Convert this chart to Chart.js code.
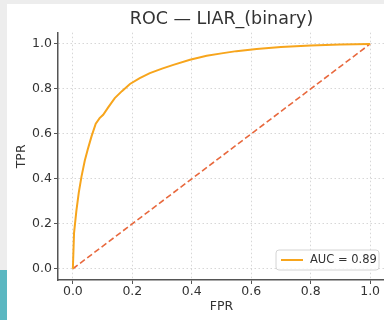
<!DOCTYPE html>
<html>
<head>
<meta charset="utf-8">
<script src="https://cdn.jsdelivr.net/npm/chart.js@4.4.0/dist/chart.umd.min.js"></script>
<style>
  html, body { margin: 0; padding: 0; width: 384px; height: 320px; overflow: hidden; background: #ededed; }
  #striscia { position: absolute; left: 0; top: 270px; width: 7px; height: 50px; background: #5bb7c1; }
  #carta { position: absolute; left: 7px; top: 4px; width: 377px; height: 316px; background: #fff; overflow: hidden; }
  #grafico { display: block; }
</style>
</head>
<body>
<div id="striscia"></div>
<div id="carta"><canvas id="grafico" width="390" height="316"></canvas></div>
<script>
// dati
var fpr = [0, 0.002, 0.004, 0.012, 0.02, 0.029, 0.04, 0.05, 0.063, 0.077, 0.09, 0.102, 0.12, 0.141, 0.165, 0.192, 0.225, 0.259, 0.3, 0.338, 0.394, 0.45, 0.5, 0.55, 0.618, 0.7, 0.8, 0.9, 1.0];
var tpr = [0, 0.08, 0.16, 0.26, 0.34, 0.41, 0.48, 0.53, 0.59, 0.645, 0.67, 0.685, 0.72, 0.759, 0.79, 0.822, 0.848, 0.87, 0.89, 0.907, 0.93, 0.947, 0.958, 0.968, 0.978, 0.986, 0.993, 0.998, 1.0];
var diagX = [0, 1];
var diagY = [0, 1];
var tickX = [0, 0.2, 0.4, 0.6, 0.8, 1.0];
var tickY = [0, 0.2, 0.4, 0.6, 0.8, 1.0];
var etichettaAuc = 'AUC = 0.89';
var titolo = 'ROC — LIAR_(binary)';

Chart.defaults.font.family = "'DejaVu Sans', sans-serif";
Chart.defaults.color = '#333';

function punti(xs, ys) {
  var out = [];
  for (var i = 0; i < xs.length; i++) {
    out.push({x: xs[i], y: ys[i]});
  }
  return out;
}

// legenda dentro l'area del grafico, in basso a destra
var legendaInterna = {
  id: 'legendaInterna',
  afterDatasetsDraw: function(chart) {
    var ctx = chart.ctx;
    var a = chart.chartArea;
    var ds = chart.data.datasets[0];
    var w = 103, h = 20;
    var x = a.right - 6 - w;
    var y = a.bottom - 10 - h;
    var r = 3;
    ctx.save();
    ctx.beginPath();
    ctx.moveTo(x + r, y);
    ctx.lineTo(x + w - r, y);
    ctx.arcTo(x + w, y, x + w, y + r, r);
    ctx.lineTo(x + w, y + h - r);
    ctx.arcTo(x + w, y + h, x + w - r, y + h, r);
    ctx.lineTo(x + r, y + h);
    ctx.arcTo(x, y + h, x, y + h - r, r);
    ctx.lineTo(x, y + r);
    ctx.arcTo(x, y, x + r, y, r);
    ctx.closePath();
    ctx.fillStyle = 'rgba(255,255,255,0.85)';
    ctx.fill();
    ctx.strokeStyle = '#d4d4d4';
    ctx.lineWidth = 1;
    ctx.stroke();
    ctx.beginPath();
    ctx.moveTo(x + 5, y + h / 2);
    ctx.lineTo(x + 27, y + h / 2);
    ctx.strokeStyle = ds.borderColor;
    ctx.lineWidth = ds.borderWidth;
    ctx.stroke();
    ctx.fillStyle = '#333';
    ctx.font = "11.5px 'DejaVu Sans'";
    ctx.textBaseline = 'middle';
    ctx.fillText(ds.label, x + 34, y + h / 2 + 0.5);
    ctx.restore();
  }
};

var ctx = document.getElementById('grafico');
var grafico = new Chart(ctx, {
  type: 'scatter',
  data: {
    datasets: [{
      label: etichettaAuc,
      data: punti(fpr, tpr),
      showLine: true,
      borderColor: '#f7a51c',
      borderWidth: 2,
      pointRadius: 0,
      tension: 0
    }, {
      label: 'random',
      data: punti(diagX, diagY),
      showLine: true,
      borderColor: '#e8693e',
      borderWidth: 1.6,
      borderDash: [6, 3],
      pointRadius: 0
    }]
  },
  options: {
    responsive: false,
    animation: false,
    devicePixelRatio: 1,
    layout: { padding: { top: 0, right: 12, bottom: 0, left: 0 } },
    plugins: {
      legend: { display: false },
      tooltip: { enabled: false },
      title: {
        display: true,
        text: titolo,
        fullSize: false,
        color: '#333',
        font: { size: 17.5, weight: 'normal', lineHeight: 1.2 },
        padding: { top: 5, bottom: 2.7 }
      }
    },
    scales: {
      x: {
        type: 'linear',
        min: -0.05,
        max: 1.05,
        afterBuildTicks: function(scale) {
          scale.ticks = tickX.map(function(v) { return {value: v}; });
        },
        afterFit: function(scale) { scale.height = 40; },
        ticks: {
          padding: 0,
          font: { size: 12.5 },
          callback: function(v) { return v.toFixed(1); }
        },
        grid: { color: '#cdcdcd', lineWidth: 0.8, tickLength: 4, tickColor: '#555', tickWidth: 1, tickBorderDash: [] },
        border: { color: '#555', width: 1.5, dash: [1.5, 2.5] },
        title: { display: true, text: 'FPR', font: { size: 12.5 }, padding: { top: 0, bottom: 6 } }
      },
      y: {
        type: 'linear',
        min: -0.05,
        max: 1.05,
        afterBuildTicks: function(scale) {
          scale.ticks = tickY.map(function(v) { return {value: v}; });
        },
        afterFit: function(scale) { scale.width = 51; },
        ticks: {
          padding: 2,
          font: { size: 12.5 },
          callback: function(v) { return v.toFixed(1); }
        },
        grid: { color: '#cdcdcd', lineWidth: 0.8, tickLength: 4, tickColor: '#555', tickWidth: 1, tickBorderDash: [] },
        border: { color: '#555', width: 1.5, dash: [1.5, 2.5] },
        title: { display: true, text: 'TPR', font: { size: 12.5 }, padding: { top: 7, bottom: 0 } }
      }
    }
  },
  plugins: [legendaInterna]
});
</script>
</body>
</html>
